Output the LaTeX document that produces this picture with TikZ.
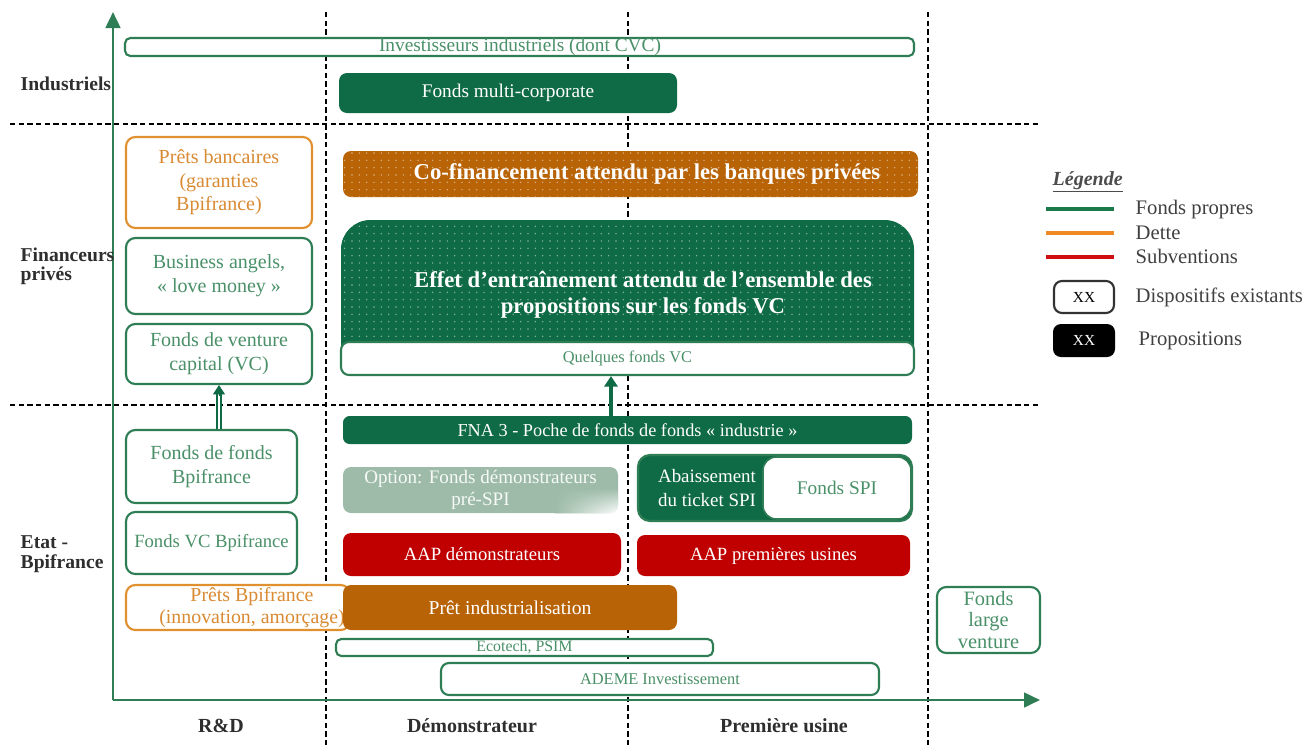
\documentclass[tikz,border=0pt]{standalone}
\usepackage{fontspec}
\setmainfont{Liberation Serif}
\usetikzlibrary{arrows.meta,fit,patterns.meta,shadings}
\definecolor{dgreen}{HTML}{0F6B45}
\definecolor{boxg}{HTML}{2F7D55}
\definecolor{txtg}{HTML}{4A9068}
\definecolor{oline}{HTML}{E0902F}
\definecolor{otxt}{HTML}{D98A33}
\definecolor{ofill}{HTML}{B96307}
\definecolor{rfill}{HTML}{C00000}
\definecolor{lgreen}{HTML}{9DBBA8}
\newcommand\fs[2]{\fontsize{#1}{#2}\selectfont}
\begin{document}
\begin{tikzpicture}[x=0.75pt,y=-0.75pt,
  outg/.style={draw=boxg, line width=1.6pt, rounded corners=7pt, fill=white, inner sep=0pt},
  outo/.style={draw=oline, line width=1.6pt, rounded corners=7pt, fill=white, inner sep=0pt},
  fillg/.style={fill=dgreen, rounded corners=5pt, inner sep=0pt},
  fillr/.style={fill=rfill, rounded corners=6pt, inner sep=0pt},
  fillo/.style={fill=ofill, rounded corners=6pt, inner sep=0pt},
  tw/.style={text=white, align=center, inner sep=0pt},
  tg/.style={text=txtg, align=center, inner sep=0pt},
  to/.style={text=otxt, align=center, inner sep=0pt},
  dashv/.style={draw=black, line width=1.1pt, dash pattern=on 4pt off 2.5pt},
  rowlab/.style={anchor=west, align=left, text=black!82, font=\bfseries\fs{14.7}{14.5}},
  collab/.style={text=black!82, font=\bfseries\fs{15}{17}},
  leglab/.style={anchor=west, font=\fs{15.5}{17}, text=black!75},
  axis/.style={draw=boxg, line width=2pt, -{Triangle[length=12pt,width=11pt]}},
  dotted pat/.style={pattern={Dots[distance=5.5pt,radius=0.6pt]}}
]
\useasboundingbox (0,0) rectangle (1304,747);

% grid lines
\foreach \x in {326,628,928} \draw[dashv] (\x,12) -- (\x,747);
\foreach \y in {124,405} \draw[dashv] (10,\y) -- (1040,\y);

% axes
\coordinate (origin) at (113,700);
\coordinate (ytop) at (113,12);
\coordinate (xend) at (1040,700);
\draw[axis] (origin) -- (ytop);
\draw[axis] (origin) -- (xend);

% row labels
\node[rowlab] (lind) at (16,84) {Industriels};
\node[rowlab] (lfin) at (16,266) {Financeurs\\privés};
\node[rowlab] (letat) at (16,554) {Etat -\\Bpifrance};

% column labels
\node[collab] (crd) at (221,726) {R\&D};
\node[collab] (cdem) at (472,726) {Démonstrateur};
\node[collab] (cpu) at (784,726) {Première usine};

% Industriels
\node[outg, rounded corners=4pt, fit={(125,38)(914,56)}] (inv) {};
\node[tg, font=\fs{14.5}{16}] (invt) at (520,47) {Investisseurs industriels (dont CVC)};
\node[fillg, rounded corners=6pt, fit={(339,73)(677,113)}] (fmc) {};
\node[tw, font=\fs{14.5}{16}] (fmct) at (fmc.center) {Fonds multi-corporate};

% Financeurs privés
\node[fillo, preaction={fill=ofill}, dotted pat, pattern color=white!50!ofill, fit={(343,151)(918,197)}] (cof) {};
\node[tw, font=\bfseries\fs{17}{19}] (coft) at (647,174) {Co-financement attendu par les banques privées};

\node[rounded corners=22pt, preaction={fill=dgreen}, dotted pat, pattern color=white!50!dgreen, inner sep=0pt, fit={(341,220)(914,375)}] (eff) {};
\node[tw, font=\bfseries\fs{17}{20}] (efft) at (643,295) {Effet d’entraînement attendu de l’ensemble des\\propositions sur les fonds VC};
\node[outg, rounded corners=6pt, fit={(341,342)(914,375)}] (qvc) {};
\node[tg, font=\fs{12.3}{14}] (qvct) at (qvc.center) {Quelques fonds VC};

\node[outo, fit={(126,137)(312,228)}] (pb) {};
\node[to, font=\fs{15}{17.6}] (pbt) at (pb.center) {Prêts bancaires\\(garanties\\Bpifrance)};
\node[outg, fit={(126,238)(312,314)}] (ba) {};
\node[tg, font=\fs{15}{18}] (bat) at (ba.center) {Business angels,\\« love money »};
\node[outg, fit={(126,324)(312,384)}] (vc) {};
\node[tg, font=\fs{15}{18}] (vct) at (vc.center) {Fonds de venture\\capital (VC)};

% Etat - Bpifrance
\node[outg, fit={(126,430)(297,503)}] (ff) {};
\node[tg, font=\fs{15}{18.5}] (fft) at (ff.center) {Fonds de fonds\\Bpifrance};
\node[outg, fit={(126,512)(297,574)}] (fvc) {};
\node[tg, font=\fs{14}{16}] (fvct) at (fvc.center) {Fonds VC Bpifrance};

\node[fillg, fit={(343,416)(912,444)}] (fna) {};
\node[tw, font=\fs{13.7}{16}] (fnat) at (fna.center) {FNA 3 - Poche de fonds de fonds « industrie »};
\node[fill=lgreen, rounded corners=6pt, inner sep=0pt, fit={(343,467)(618,513)}] (opt) {};
\begin{scope}
  \clip[rounded corners=6pt] (opt.north west) rectangle (opt.south east);
  \shade[upper left=lgreen, upper right=lgreen, lower left=lgreen, lower right=white] (555,488) rectangle (opt.south east);
\end{scope}
\node[tw, text=white!92!lgreen, font=\fs{14.3}{16}] (optt) at (opt.center) {Option: Fonds démonstrateurs\\pré-SPI};

\node[fillg, draw=boxg, line width=1.6pt, rounded corners=9pt, fit={(638,455)(912,521)}] (spi) {};
\node[fill=white, draw=boxg, line width=1.2pt, rounded corners=10pt, inner sep=0pt, fit={(763,457)(911,519)}] (fspi) {};
\node[tg, font=\fs{14.5}{16}] (fspit) at (fspi.center) {Fonds SPI};
\node[tw, font=\fs{14.2}{17.5}] (abt) at (707,488) {Abaissement\\du ticket SPI};

\node[fillr, fit={(343,533)(621,576)}] (aapd) {};
\node[tw, font=\fs{14}{16}] (aapdt) at (aapd.center) {AAP démonstrateurs};
\node[fillr, fit={(637,535)(910,576)}] (aapu) {};
\node[tw, font=\fs{14}{16}] (aaput) at (aapu.center) {AAP premières usines};

\node[outo, fit={(126,585)(350,630)}] (pbpi) {};
\node[to, font=\fs{14.9}{16.5}] (pbpit) at (252,608) {Prêts Bpifrance\\(innovation, amorçage)};
\node[fillo, fit={(343,585)(677,630)}] (pind) {};
\node[tw, font=\fs{14.7}{16}] (pindt) at (pind.center) {Prêt industrialisation};

\node[outg, rounded corners=4pt, fit={(336,639)(713,656)}] (eco) {};
\node[tg, font=\fs{11.9}{13}] (ecot) at (eco.center) {Ecotech, PSIM};
\node[outg, rounded corners=6pt, fit={(441,663)(879,695)}] (ademe) {};
\node[tg, font=\fs{12.3}{14}] (ademet) at (ademe.center) {ADEME Investissement};
\node[outg, fit={(937,587)(1040,653)}] (flv) {};
\node[tg, font=\fs{15.3}{15.8}] (flvt) at (flv.center) {Fonds\\large\\venture};

% arrows
\draw[draw=dgreen, line width=1pt, double=white, double distance=2.2pt] (ff.north -| vc.south) -- ([yshift=-7pt]vc.south);
\draw[dgreen, line width=0.5pt, -{Triangle[length=7pt,width=9pt]}] ([yshift=-8pt]vc.south) -- (vc.south);
\coordinate (arrx) at (611,0);
\draw[dgreen, line width=3pt, -{Triangle[length=8pt,width=10pt]}] (fna.north -| arrx) -- (qvc.south -| arrx);

% legend
\node[anchor=west, text=black!70, font=\bfseries\itshape\fs{15}{17}] (legt) at (1048,182) {\underline{Légende}};
\coordinate (lg1) at (1046,209); \coordinate (lg1e) at (1114,209);
\coordinate (lg2) at (1046,233); \coordinate (lg2e) at (1114,233);
\coordinate (lg3) at (1046,257); \coordinate (lg3e) at (1114,257);
\draw[draw={rgb,255:red,27;green,122;blue,74}, line width=3pt] (lg1) -- (lg1e);
\draw[draw={rgb,255:red,240;green,138;blue,36}, line width=3pt] (lg2) -- (lg2e);
\draw[draw={rgb,255:red,208;green,16;blue,16}, line width=3pt] (lg3) -- (lg3e);
\node[leglab] (l1) at (1131,210) {Fonds propres};
\node[leglab] (l2) at (1131,233) {Dette};
\node[leglab] (l3) at (1131,256) {Subventions};
\node[draw=black!80, line width=1.6pt, rounded corners=6pt, inner sep=0pt, fit={(1054,281)(1114,313)}] (lx1) {};
\node[font=\fs{11.5}{13}, inner sep=0pt] (lx1t) at (lx1.center) {XX};
\node[leglab] (l4) at (1131,297) {Dispositifs existants};
\node[fill=black, rounded corners=6pt, inner sep=0pt, fit={(1053,324)(1115,357)}] (lx2) {};
\node[text=white, font=\fs{11.5}{13}, inner sep=0pt] (lx2t) at (lx2.center) {XX};
\node[leglab] (l5) at (1134,341) {Propositions};
\end{tikzpicture}
\end{document}
